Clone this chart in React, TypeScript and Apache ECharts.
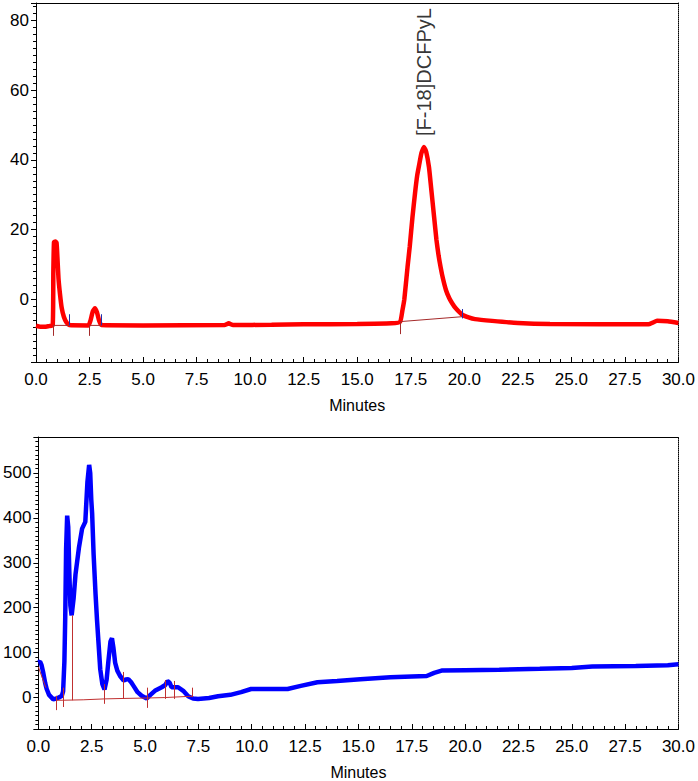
import React, { useEffect, useRef } from "react";
import * as echarts from "echarts";

// ---- Top chromatogram (radio trace) ----
const redTimes = [0, 0.2, 0.4, 0.6, 0.78, 0.81, 0.84, 0.9, 0.96, 1.0, 1.05, 1.12, 1.2, 1.3, 1.42, 1.55, 2.45, 2.55, 2.65, 2.75, 2.85, 2.95, 3.05, 5, 8.8, 9.0, 9.2, 11, 12.5, 15, 16.6, 17.0, 17.11, 17.2, 17.35, 17.45, 17.58, 17.7, 17.8, 17.89, 18.0, 18.12, 18.22, 18.35, 18.45, 18.59, 18.7, 18.8, 18.9, 19.0, 19.15, 19.3, 19.44, 19.6, 19.9, 20.2, 20.5, 21.3, 22.5, 24, 28.6, 28.8, 29.0, 29.5, 30];
const redSignal = [-7.6, -7.9, -7.9, -7.7, -7.5, 8, 16.4, 16.6, 16.2, 12, 6, 1.5, -2.5, -5, -6.6, -7.4, -7.5, -6, -3.5, -2.6, -3.8, -6.2, -7.4, -7.5, -7.4, -6.9, -7.4, -7.3, -7.2, -7.1, -6.9, -6.5, -3.2, 0, 9.3, 15, 23.6, 30.5, 35.5, 38.5, 42, 43.7, 42.3, 37.9, 32, 23.6, 17, 12.5, 9, 6, 2.5, 0.3, -1.2, -2.6, -4.4, -5.2, -5.7, -6.2, -6.8, -7.1, -7.2, -6.7, -6.2, -6.3, -6.8];
const topBaselines = [
  [[0.8, -7.5], [1.55, -7.5]],
  [[2.48, -7.5], [3.03, -7.5]],
  [[17.03, -6.4], [19.9, -5.0]],
];
const topStartTicks = [[0.8, -7.5, -10.5], [2.48, -7.5, -10.5], [17.03, -6.5, -10]];
const topEndTicks = [[1.55, -7.5, -4.3], [3.03, -7.5, -4.3], [19.9, -5.5, -2.8]];
const peakName = "[F-18]DCFPyL";
const peakPoint = [18.12, 43.7];

// ---- Bottom chromatogram (UV trace) ----
const blueTimes = [0, 0.08, 0.15, 0.23, 0.32, 0.39, 0.5, 0.7, 0.85, 1.0, 1.1, 1.16, 1.22, 1.26, 1.3, 1.35, 1.4, 1.45, 1.5, 1.56, 1.65, 1.74, 1.9, 2.05, 2.2, 2.3, 2.38, 2.43, 2.48, 2.52, 2.59, 2.68, 2.75, 2.9, 3.0, 3.1, 3.2, 3.28, 3.38, 3.45, 3.52, 3.6, 3.7, 3.83, 4.0, 4.1, 4.22, 4.35, 4.46, 4.65, 4.84, 5.08, 5.25, 5.46, 5.78, 5.95, 6.05, 6.15, 6.24, 6.55, 6.79, 7.02, 7.25, 7.48, 8.0, 8.42, 9.0, 9.5, 9.97, 11.0, 11.68, 12.3, 13.08, 14.0, 15.09, 16.5, 17.5, 18.2, 18.55, 18.9, 20, 21.6, 23.5, 25.0, 25.96, 28, 29.5, 30];
const blueSignal = [78, 80, 72, 55, 32, 19, 6, -4, -2, 1, 4, 14, 80, 180, 330, 405, 380, 280, 205, 183, 220, 274, 333, 376, 391, 480, 518, 500, 440, 410, 318, 230, 172, 63, 30, 18, 40, 80, 125, 132, 110, 77, 60, 48, 38, 40, 41, 34, 26, 12, 4, -2, 6, 15, 23, 28, 37, 33, 23, 23, 15, 3, -2, -3, -1, 3, 6, 12, 19, 19, 19, 26, 34, 37, 41, 45, 47, 48, 55, 60, 61, 62, 64, 66, 69, 70, 72, 74];
const bottomBaselines = [
  [[0, 68], [0.35, 22]],
  [[0.84, -6], [1.15, -6], [2.1, -5], [3.1, -3], [4.0, -2], [5.1, -1], [5.93, 0], [6.36, 1], [7.22, 3]],
];
const bottomTicks = [[0.84, 4, -28], [1.15, 22, -21], [1.58, 183, -6], [3.1, 30, -14], [4.0, 57, -3], [5.1, 22, -23], [5.93, 39, -3], [6.36, 37, -3], [7.22, 22, 1]];

const xLabel = "Minutes";
const FONT = '"Liberation Sans", Arial, sans-serif';

const zip = (xs: number[], ys: number[]) => xs.map((x, i) => [x, ys[i]]);
const tickCoords = (t: number[][]) => t.map(([x, a, b]) => ({ coords: [[x, a], [x, b]] }));

function mainX(gridIndex: number) {
  return {
    type: "value", gridIndex, min: 0, max: 30, interval: 2.5, position: "bottom",
    axisLine: { show: true, onZero: false, lineStyle: { color: "#000", width: 1 } },
    axisTick: { show: true, inside: true, length: 5, lineStyle: { color: "#000" } },
    minorTick: { show: true, splitNumber: 5, length: 3, lineStyle: { color: "#000" } },
    splitLine: { show: false },
    axisLabel: { formatter: (v: number) => v.toFixed(1), fontSize: 17, color: "#000", margin: 9, fontFamily: FONT },
    name: xLabel, nameLocation: "middle", nameGap: 35,
    nameTextStyle: { fontSize: 16, color: "#000", fontFamily: FONT },
  };
}
function borderX(gridIndex: number) {
  return {
    type: "value", gridIndex, min: 0, max: 30, position: "top",
    axisLine: { show: true, onZero: false, lineStyle: { color: "#000", width: 1 } },
    axisTick: { show: false }, axisLabel: { show: false }, splitLine: { show: false },
  };
}
function mainY(gridIndex: number, min: number, max: number) {
  return {
    type: "value", gridIndex, min, max, splitNumber: 5, position: "left",
    axisLine: { show: true, onZero: false, lineStyle: { color: "#000", width: 1 } },
    axisTick: { show: true, inside: false, length: 5, lineStyle: { color: "#000" } },
    minorTick: { show: true, splitNumber: 10, length: 3, lineStyle: { color: "#000" } },
    splitLine: { show: false },
    axisLabel: { showMinLabel: false, showMaxLabel: false, fontSize: 17, color: "#000", margin: 7, fontFamily: FONT },
  };
}
function borderY(gridIndex: number, min: number, max: number) {
  return {
    type: "value", gridIndex, min, max, position: "right",
    axisLine: { show: true, onZero: false, lineStyle: { color: "#000", width: 1, type: "dotted" } },
    axisTick: { show: false }, axisLabel: { show: false }, splitLine: { show: false },
  };
}

export default function App() {
  const ref = useRef<HTMLDivElement>(null);
  useEffect(() => {
    if (!ref.current) return;
    const chart = echarts.init(ref.current, null, { renderer: "svg" });
    chart.setOption({
      animation: false,
      backgroundColor: "#fff",
      grid: [
        { left: 36, top: 3, width: 644, height: 359 },
        { left: 36, top: 437, width: 644, height: 297 },
      ],
      xAxis: [mainX(0), borderX(0), mainX(1), borderX(1)],
      yAxis: [mainY(0, -18, 85), borderY(0, -18, 85), mainY(1, -70, 580), borderY(1, -70, 580)],
      series: [
        {
          type: "line", xAxisIndex: 0, yAxisIndex: 0, data: zip(redTimes, redSignal),
          showSymbol: false, smooth: 0.15, lineStyle: { color: "#ff0000", width: 4.5 }, z: 2,
        },
        {
          type: "lines", coordinateSystem: "cartesian2d", xAxisIndex: 0, yAxisIndex: 0, polyline: true,
          data: topBaselines.map((s) => ({ coords: s })),
          lineStyle: { color: "#a52a2a", width: 1, opacity: 1 }, z: 3,
        },
        {
          type: "lines", coordinateSystem: "cartesian2d", xAxisIndex: 0, yAxisIndex: 0,
          data: tickCoords(topStartTicks), lineStyle: { color: "#a52a2a", width: 1, opacity: 1 }, z: 3,
        },
        {
          type: "lines", coordinateSystem: "cartesian2d", xAxisIndex: 0, yAxisIndex: 0,
          data: tickCoords(topEndTicks), lineStyle: { color: "#1f2fb0", width: 1, opacity: 1 }, z: 3,
        },
        {
          type: "scatter", xAxisIndex: 0, yAxisIndex: 0, data: [peakPoint], symbolSize: 0, silent: true,
          label: {
            show: true, formatter: peakName, position: "top", distance: 11, rotate: 90,
            align: "left", verticalAlign: "middle", fontSize: 20, color: "#000", fontFamily: FONT,
          },
          z: 4,
        },
        {
          type: "line", xAxisIndex: 2, yAxisIndex: 2, data: zip(blueTimes, blueSignal),
          showSymbol: false, lineStyle: { color: "#0000ff", width: 4.5 }, z: 2,
        },
        {
          type: "lines", coordinateSystem: "cartesian2d", xAxisIndex: 2, yAxisIndex: 2, polyline: true,
          data: bottomBaselines.map((s) => ({ coords: s })),
          lineStyle: { color: "#c03030", width: 1, opacity: 1 }, z: 3,
        },
        {
          type: "lines", coordinateSystem: "cartesian2d", xAxisIndex: 2, yAxisIndex: 2,
          data: tickCoords(bottomTicks), lineStyle: { color: "#c03030", width: 1, opacity: 1 }, z: 3,
        },
      ],
    });
    return () => chart.dispose();
  }, []);
  return (
    <div
      ref={ref}
      style={{ position: "absolute", left: 0, top: 0, width: 698, height: 781, background: "#fff" }}
    />
  );
}
